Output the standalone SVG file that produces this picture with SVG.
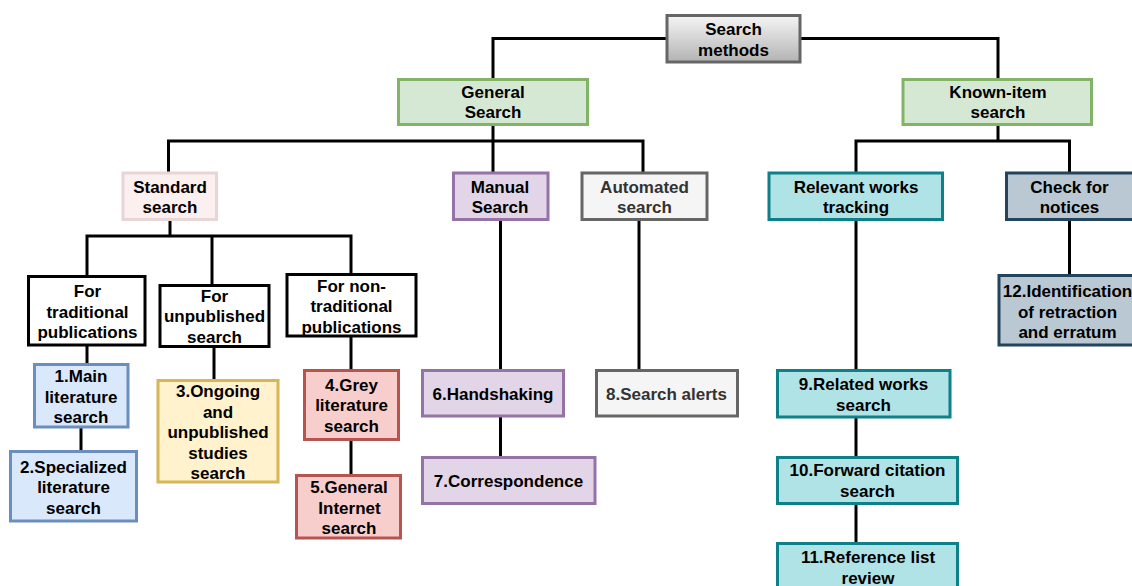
<svg xmlns="http://www.w3.org/2000/svg" width="1132" height="586" viewBox="0 0 1132 586">
  <defs>
    <linearGradient id="gradRoot" x1="0" y1="0" x2="0" y2="1">
      <stop offset="0" stop-color="#f5f5f5"/>
      <stop offset="1" stop-color="#b3b3b3"/>
    </linearGradient>
  </defs>
  <style>
    text { font-family: "Liberation Sans", Arial, Helvetica, sans-serif; font-size: 17px; font-weight: bold; text-anchor: middle; fill: #000000; }
    rect { stroke-width: 3; }
    .root { fill: url(#gradRoot); stroke: #666666; }
    .green { fill: #d5e8d4; stroke: #82b366; }
    .pink { fill: #fcefef; stroke: #e8d6d6; }
    .purple { fill: #e1d5e7; stroke: #9673a6; }
    .gray { fill: #f5f5f5; stroke: #666666; }
    .gray-text { fill: #333333; }
    .teal { fill: #b0e3e6; stroke: #0e8088; }
    .slate { fill: #bac8d3; stroke: #23445d; }
    .plain { fill: #ffffff; stroke: #000000; }
    .blue { fill: #dae8fc; stroke: #6c8ebf; }
    .yellow { fill: #fff2cc; stroke: #d6b656; }
    .red { fill: #f8cecc; stroke: #b85450; }
    .link { fill: none; stroke: #000000; stroke-width: 3; }
  </style>
  <rect width="1132" height="586" fill="#ffffff"/>

  <!-- tree connectors -->
  <g id="connectors">
    <path class="link" d="M667,38.5 H493 V79.5"/>
    <path class="link" d="M800,38.5 H998 V79.5"/>
    <path class="link" d="M493,124.5 V141"/>
    <path class="link" d="M168.5,173 V141 H643 V173"/>
    <path class="link" d="M493,141 V173"/>
    <path class="link" d="M998,124.5 V141"/>
    <path class="link" d="M856,173 V141 H1069.5 V173"/>
    <path class="link" d="M170,219.5 V236"/>
    <path class="link" d="M87,276.5 V236 H351 V274.5"/>
    <path class="link" d="M212,236 V285.5"/>
    <path class="link" d="M87,345 V364.5"/>
    <path class="link" d="M81,427 V451.5"/>
    <path class="link" d="M214,346.5 V380.5"/>
    <path class="link" d="M351,336 V370.5"/>
    <path class="link" d="M351,439.5 V475.5"/>
    <path class="link" d="M500.5,219.5 V370.5"/>
    <path class="link" d="M500.5,416 V457.5"/>
    <path class="link" d="M639,219.5 V370.5"/>
    <path class="link" d="M856,219.5 V370.5"/>
    <path class="link" d="M856,417 V457.5"/>
    <path class="link" d="M856,503.5 V543.5"/>
    <path class="link" d="M1069.5,219.5 V275.5"/>
  </g>

  <g id="search-methods">
    <rect class="root" x="667" y="15.5" width="133" height="46.5"/>
    <text x="733.5"><tspan x="733.5" y="35">Search</tspan><tspan x="733.5" y="55.5">methods</tspan></text>
  </g>

  <g id="general-search">
    <rect class="green" x="398.5" y="79.5" width="189" height="45"/>
    <text><tspan x="493" y="97.5">General</tspan><tspan x="493" y="118">Search</tspan></text>
  </g>

  <g id="known-item-search">
    <rect class="green" x="903" y="79.5" width="188.5" height="45"/>
    <text><tspan x="998" y="97.5">Known-item</tspan><tspan x="998" y="118">search</tspan></text>
  </g>

  <g id="standard-search">
    <rect class="pink" x="123" y="173" width="93.5" height="46.5"/>
    <text><tspan x="170" y="192.5">Standard</tspan><tspan x="170" y="213">search</tspan></text>
  </g>

  <g id="manual-search">
    <rect class="purple" x="453.5" y="173" width="94.5" height="46.5"/>
    <text><tspan x="500" y="192.5">Manual</tspan><tspan x="500" y="213">Search</tspan></text>
  </g>

  <g id="automated-search">
    <rect class="gray" x="582" y="173" width="125" height="46.5"/>
    <text class="gray-text"><tspan x="644.5" y="192.5">Automated</tspan><tspan x="644.5" y="213">search</tspan></text>
  </g>

  <g id="relevant-works-tracking">
    <rect class="teal" x="769" y="173" width="173.5" height="46.5"/>
    <text><tspan x="856" y="192.5">Relevant works</tspan><tspan x="856" y="213">tracking</tspan></text>
  </g>

  <g id="check-for-notices">
    <rect class="slate" x="1006.5" y="173" width="130" height="46.5"/>
    <text><tspan x="1069.5" y="192.5">Check for</tspan><tspan x="1069.5" y="213">notices</tspan></text>
  </g>

  <g id="traditional-publications">
    <rect class="plain" x="28.5" y="276.5" width="116.5" height="68.5"/>
    <text><tspan x="87.5" y="297">For</tspan><tspan x="87.5" y="317.5">traditional</tspan><tspan x="87.5" y="338">publications</tspan></text>
  </g>

  <g id="unpublished-search">
    <rect class="plain" x="160" y="285.5" width="109" height="61"/>
    <text><tspan x="214.5" y="301.5">For</tspan><tspan x="214.5" y="322">unpublished</tspan><tspan x="214.5" y="342.5">search</tspan></text>
  </g>

  <g id="non-traditional-publications">
    <rect class="plain" x="287" y="274.5" width="129" height="61.5"/>
    <text><tspan x="351.5" y="291.5">For non-</tspan><tspan x="351.5" y="312">traditional</tspan><tspan x="351.5" y="332.5">publications</tspan></text>
  </g>

  <g id="main-literature">
    <rect class="blue" x="34.5" y="364.5" width="93.5" height="62.5"/>
    <text><tspan x="81" y="382">1.Main</tspan><tspan x="81" y="402.5">literature</tspan><tspan x="81" y="423">search</tspan></text>
  </g>

  <g id="specialized-literature">
    <rect class="blue" x="10.5" y="451.5" width="126" height="69.5"/>
    <text><tspan x="73.5" y="472.5">2.Specialized</tspan><tspan x="73.5" y="493">literature</tspan><tspan x="73.5" y="513.5">search</tspan></text>
  </g>

  <g id="ongoing-unpublished">
    <rect class="yellow" x="158" y="380.5" width="120" height="101.5"/>
    <text><tspan x="218" y="397">3.Ongoing</tspan><tspan x="218" y="417.5">and</tspan><tspan x="218" y="438">unpublished</tspan><tspan x="218" y="458.5">studies</tspan><tspan x="218" y="479">search</tspan></text>
  </g>

  <g id="grey-literature">
    <rect class="red" x="304.5" y="370.5" width="94" height="69"/>
    <text><tspan x="351.5" y="390.5">4.Grey</tspan><tspan x="351.5" y="411">literature</tspan><tspan x="351.5" y="431.5">search</tspan></text>
  </g>

  <g id="general-internet">
    <rect class="red" x="296.5" y="475.5" width="104" height="62.5"/>
    <text><tspan x="349" y="493">5.General</tspan><tspan x="349.5" y="513.5">Internet</tspan><tspan x="349" y="534">search</tspan></text>
  </g>

  <g id="handshaking">
    <rect class="purple" x="422.5" y="370.5" width="141" height="45.5"/>
    <text x="493" y="400">6.Handshaking</text>
  </g>

  <g id="correspondence">
    <rect class="purple" x="422.5" y="457.5" width="172.5" height="46"/>
    <text x="508.5" y="487">7.Correspondence</text>
  </g>

  <g id="search-alerts">
    <rect class="gray" x="596.5" y="370.5" width="141" height="45.5"/>
    <text class="gray-text" x="666.5" y="400">8.Search alerts</text>
  </g>

  <g id="related-works">
    <rect class="teal" x="777.5" y="370.5" width="172.5" height="46.5"/>
    <text><tspan x="863.5" y="390">9.Related works</tspan><tspan x="863.5" y="410.5">search</tspan></text>
  </g>

  <g id="forward-citation">
    <rect class="teal" x="777.5" y="457.5" width="180" height="46"/>
    <text><tspan x="867.5" y="476">10.Forward citation</tspan><tspan x="867.5" y="497">search</tspan></text>
  </g>

  <g id="reference-list">
    <rect class="teal" x="777.5" y="543.5" width="180" height="50"/>
    <text><tspan x="868" y="563">11.Reference list</tspan><tspan x="868" y="584">review</tspan></text>
  </g>

  <g id="retraction-erratum">
    <rect class="slate" x="999" y="275.5" width="138" height="69.5"/>
    <text><tspan x="1067.5" y="297">12.Identification</tspan><tspan x="1067.5" y="317.5">of retraction</tspan><tspan x="1067.5" y="338">and erratum</tspan></text>
  </g>
</svg>
